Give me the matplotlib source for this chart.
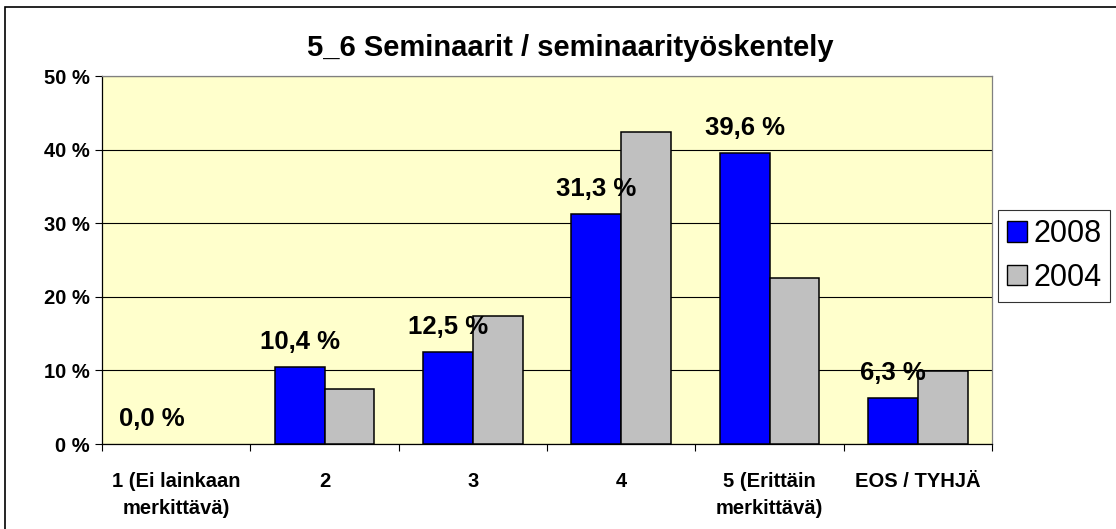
import numpy as np
import matplotlib
matplotlib.use("Agg")
import matplotlib.pyplot as plt
from matplotlib.patches import Patch, Rectangle
from matplotlib.ticker import FixedLocator, NullFormatter

plt.rcParams['font.family'] = ['Liberation Sans', 'DejaVu Sans']

categories = ["1 (Ei lainkaan\nmerkittävä)", "2", "3", "4",
              "5 (Erittäin\nmerkittävä)", "EOS / TYHJÄ"]
vals_2008 = [0.0, 10.4, 12.5, 31.3, 39.6, 6.3]
vals_2004 = [0.0, 7.5, 17.4, 42.4, 22.5, 9.9]
title = "5_6 Seminaarit / seminaarityöskentely"

fig = plt.figure(figsize=(11.16, 5.29), dpi=100)
ax = fig.add_axes([102 / 1116, 1 - 444 / 529, 890 / 1116, 368 / 529])
ax.set_facecolor("#FFFFCC")

x = np.arange(len(categories))
w = 0.335
b1 = ax.bar(x - w / 2, vals_2008, w, color="#0000FF", edgecolor="black", linewidth=1.1, zorder=3)
b2 = ax.bar(x + w / 2, vals_2004, w, color="#C0C0C0", edgecolor="black", linewidth=1.1, zorder=3)
# Excel draws nothing for empty bars
for bars, vals in ((b1, vals_2008), (b2, vals_2004)):
    for r, v in zip(bars, vals):
        if v == 0:
            r.set_visible(False)

for xi, v in zip(x, vals_2008):
    ax.annotate("{:.1f} %".format(v).replace(".", ","), (xi - w / 2, v),
                xytext=(0, 18), textcoords="offset points", ha="center", va="center",
                fontsize=18.5, fontweight="bold", zorder=5)

ax.set_xlim(-0.5, len(categories) - 0.5)
ax.set_ylim(0, 50)
ax.set_yticks(np.arange(0, 51, 10))
ax.set_yticklabels(["{} %".format(t) for t in range(0, 51, 10)], fontsize=14.5, fontweight="bold")
ax.yaxis.grid(True, color="black", linewidth=0.8, zorder=1)
ax.tick_params(axis="y", length=5, width=0.8, pad=4)

ax.set_xticks(x)
ax.set_xticklabels(categories, fontsize=14.5, fontweight="bold", linespacing=1.55)
ax.tick_params(axis="x", length=0, pad=20)
ax.xaxis.set_minor_locator(FixedLocator(np.arange(-0.5, len(categories), 1)))
ax.xaxis.set_minor_formatter(NullFormatter())
ax.tick_params(axis="x", which="minor", length=5, width=0.8, direction="out")

for s in ["top", "right"]:
    ax.spines[s].set_color("#808080")
for s in ["left", "bottom"]:
    ax.spines[s].set_color("black")
for s in ax.spines.values():
    s.set_linewidth(0.9)

fig.text(570 / 1116, 1 - 48 / 529, title, ha="center", va="center",
         fontsize=21, fontweight="bold")

handles = [Patch(facecolor="#0000FF", edgecolor="black", label="2008"),
           Patch(facecolor="#C0C0C0", edgecolor="black", label="2004")]
leg = fig.legend(handles=handles, loc="upper left",
                 bbox_to_anchor=(998 / 1116, 1 - 210 / 529),
                 fontsize=22, frameon=True, fancybox=False, borderpad=0.3,
                 handlelength=0.65, handleheight=0.65, handletextpad=0.2,
                 labelspacing=0.45, borderaxespad=0)
leg.get_frame().set_edgecolor("black")
leg.get_frame().set_linewidth(0.8)

fig.patches.append(Rectangle((5 / 1116, -0.05), 1.2, 1 - 7 / 529 + 0.05,
                             transform=fig.transFigure, fill=False,
                             edgecolor="black", linewidth=1.2))

fig.savefig("out.png", dpi=100)
